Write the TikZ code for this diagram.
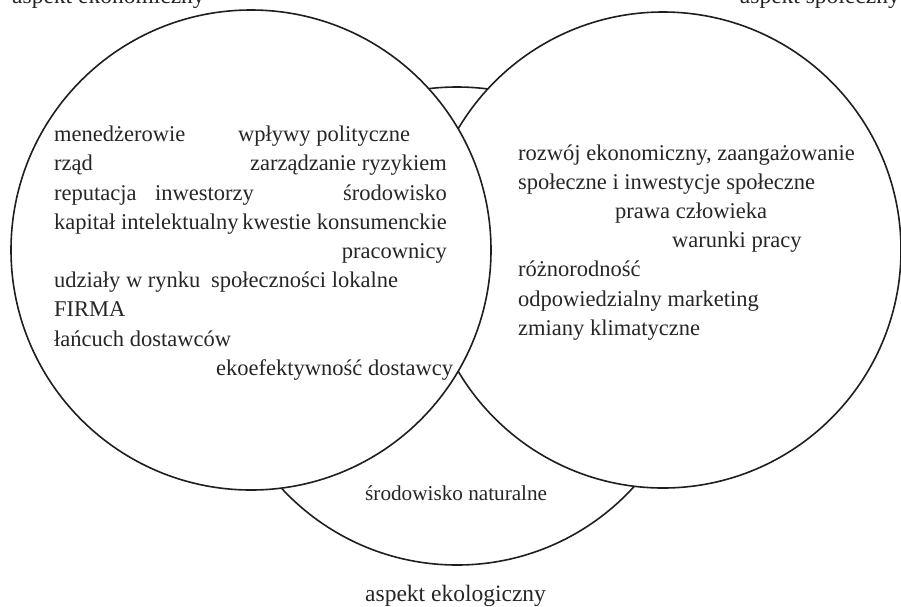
\documentclass[tikz,border=0pt]{standalone}
\usepackage{fontspec}
\setmainfont{Liberation Serif}
\begin{document}
\begin{tikzpicture}[x=1pt,y=-1pt,
  ring/.style={draw=black!88,line width=1.6pt,fill=white},
  lbl/.style={inner sep=0pt,anchor=base west,text=black!85,font=\fontsize{22.5}{27}\selectfont},
  lblr/.style={lbl,anchor=base east},
  asp/.style={inner sep=0pt,anchor=base west,text=black!85,font=\fontsize{23.5}{28}\selectfont},
  aspr/.style={asp,anchor=base east},
  small/.style={lbl,font=\fontsize{21.2}{26}\selectfont}]
\useasboundingbox (0,0) rectangle (901,606);
% circles (bottom, right, left — drawn in that order, filled white)
\draw[ring] (457,326) circle[radius=239pt];
\draw[ring] (663,250) circle[radius=238pt];
\draw[ring] (251,250) circle[radius=240pt];
% aspect labels
\node[asp] (ekon) at (12,3.5) {aspekt ekonomiczny};
\node[aspr] (spol) at (900,3.5) {aspekt społeczny};
\node[asp] (ekol) at (365,601.5) {aspekt ekologiczny};
% left circle
\node[lbl] (a1) at (54,141.7) {menedżerowie};
\node[lbl] (a2) at (238,141.7) {wpływy polityczne};
\node[lbl] (a3) at (54,170.9) {rząd};
\node[lblr] (a4) at (447,170.9) {zarządzanie ryzykiem};
\node[lbl] (a5) at (54,200.1) {reputacja};
\node[lbl] (a6) at (155,200.1) {inwestorzy};
\node[lblr] (a7) at (447,200.1) {środowisko};
\node[lbl] (a8) at (54,229.3) {kapitał intelektualny};
\node[lblr] (a9) at (447,229.3) {kwestie konsumenckie};
\node[lblr] (a10) at (447,258.5) {pracownicy};
\node[lbl] (a11) at (54,287.7) {udziały w rynku};
\node[lbl] (a12) at (211,287.7) {społeczności lokalne};
\node[lbl] (a13) at (54,316.9) {FIRMA};
\node[lbl] (a14) at (54,346.1) {łańcuch dostawców};
\node[lbl] (a15) at (216,375.3) {ekoefektywność dostawcy};
% right circle
\node[lbl] (b1) at (518,160) {rozwój ekonomiczny, zaangażowanie};
\node[lbl] (b2) at (518,189.2) {społeczne i inwestycje społeczne};
\node[lbl] (b3) at (615,218.4) {prawa człowieka};
\node[lbl] (b4) at (672,247.6) {warunki pracy};
\node[lbl] (b5) at (518,276.8) {różnorodność};
\node[lbl] (b6) at (518,306) {odpowiedzialny marketing};
\node[lbl] (b7) at (518,335.2) {zmiany klimatyczne};
% bottom circle
\node[small] (c1) at (365,500) {środowisko naturalne};
\end{tikzpicture}
\end{document}
